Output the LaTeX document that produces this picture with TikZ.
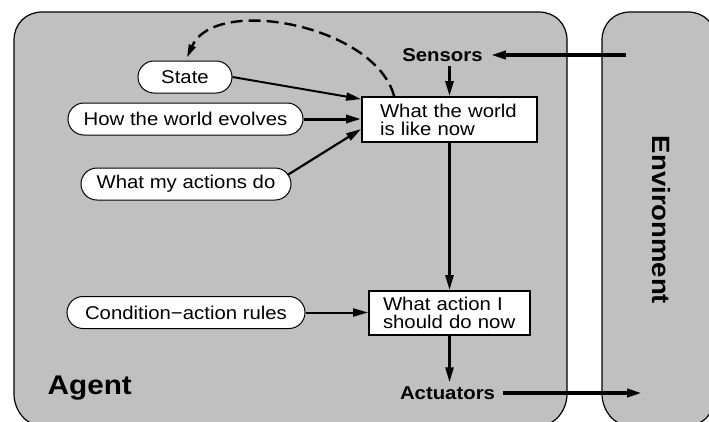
\documentclass[tikz,border=0pt]{standalone}
\usepackage{fontspec}
\setmainfont{Liberation Sans}[FakeStretch=1.1]
\usetikzlibrary{arrows.meta}
\definecolor{agentgray}{RGB}{192,192,192}
\begin{document}
\begin{tikzpicture}[x=1pt,y=-1pt,
  every node/.style={font=\fontsize{18.5}{18}\selectfont},
  oval/.style={draw=black,line width=1pt,fill=white,rounded corners=16pt,minimum height=32pt,inner sep=0pt},
  infobox/.style={draw=black,line width=1.8pt,fill=white,align=left,inner ysep=0pt,minimum height=45pt},
  lbl/.style={font=\bfseries\fontsize{18.5}{18}\selectfont,inner xsep=8pt,inner ysep=4pt},
  arr/.style={line width=2.2pt,-{Triangle[length=15pt,width=8pt]}},
  panel/.style={draw=black,line width=1.2pt,fill=agentgray}]
\useasboundingbox (0,0) rectangle (709,421);
\clip (0,0) rectangle (709,421);
\fill[white] (0,0) rectangle (709,421);
% agent panel
\path[panel] (14,40) .. controls (14,24) and (26,12) .. (42,12) -- (539,12)
  .. controls (555,12) and (567,24) .. (567,40) -- (567,394)
  .. controls (567,410) and (555,426) .. (539,426) -- (42,426)
  .. controls (26,426) and (14,410) .. (14,394) -- cycle;
% environment panel
\path[panel] (602,40) .. controls (602,24) and (614,12) .. (630,12) -- (688,12)
  .. controls (704,12) and (716,24) .. (716,40) -- (716,394)
  .. controls (716,410) and (704,426) .. (688,426) -- (630,426)
  .. controls (614,426) and (602,410) .. (602,394) -- cycle;
% nodes
\node[oval,minimum width=94pt] (state) at (185,77) {State};
\node[oval,minimum width=235pt] (evolve) at (185.5,119) {How the world evolves};
\node[oval,minimum width=210pt] (effects) at (186,184) {What my actions do};
\node[oval,minimum width=238pt] (rules) at (186,312.5) {Condition−action rules};
\node[infobox,text width=139pt,inner xsep=18pt] (world) at (449.5,119.5) {What the world\\is like now};
\node[infobox,text width=133pt,inner xsep=14pt,minimum height=44pt] (action) at (449.5,313) {What action I\\should do now};
\node[lbl] (sensors) at (442.5,55) {Sensors};
\node[lbl] (actuators) at (447.5,393) {Actuators};
\node[font=\bfseries\fontsize{27}{28}\selectfont,anchor=base west,inner sep=0pt] (agentlabel) at (47.5,394) {Agent};
\node[font=\bfseries\fontsize{25}{26}\selectfont,rotate=-90] (envlabel) at (661,220) {Environment};
\coordinate (envin) at (626,55);
\coordinate (envout) at (642,393);
% connectors
\draw[arr,line width=3.5pt] (envin) -- (sensors.east);
\draw[arr,line width=2.8pt] (world.north |- sensors.south) -- (world.north);
\draw[arr,line width=2pt] (state.east) -- ([yshift=-3pt]world.north west);
\draw[arr,line width=3pt] (evolve.east) -- (evolve.east -| world.west);
\draw[arr,line width=2.2pt] ([xshift=-4pt,yshift=9pt]effects.east) -- ([yshift=-33pt]world.north west);
\draw[arr,line width=2pt] (rules.east) -- (rules.east -| action.west);
\draw[arr,line width=2.6pt] (world.south) -- (action.north);
\draw[arr,line width=2.6pt] (action.south) -- (action.south |- actuators.north);
\draw[arr,line width=3.5pt] (actuators.east) -- (envout);
\draw[line width=2.4pt,dash pattern=on 12pt off 6pt,-{Triangle[length=13pt,width=7pt]}]
  ([xshift=33pt]world.north west) .. controls (375,25) and (215,-5) .. ([xshift=2pt,yshift=3pt]state.north);
\end{tikzpicture}
\end{document}
